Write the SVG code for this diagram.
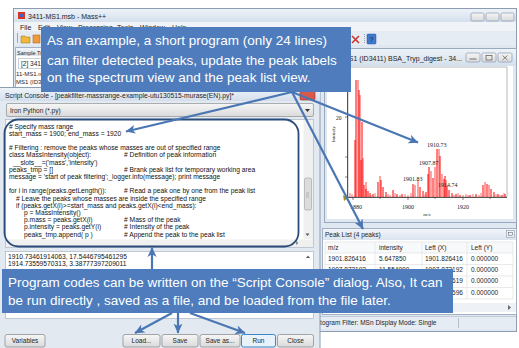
<svg xmlns="http://www.w3.org/2000/svg" width="519" height="348" viewBox="0 0 519 348">
  <style>
    .ui { font-family: "Liberation Sans", Arial, sans-serif; fill: #1e1e1e; }
    .t7 { font-size: 7px; }
    .t65 { font-size: 6.5px; }
    .code { font-family: "Liberation Sans", Arial, sans-serif; font-size: 6.7px; fill: #111; }
    .plot { font-family: "Liberation Serif", "Times New Roman", serif; fill: #222; }
    .callout-box { fill: #4e7cbc; }
    .callout-text { font-family: "Liberation Sans", Arial, sans-serif; font-size: 13.5px; fill: #ffffff; }
    .conn { stroke: #4a77b4; stroke-width: 2.2; fill: none; marker-end: url(#arrow); }
    .btn { fill: url(#btnGrad); stroke: #8e9092; stroke-width: 0.8; }
    .wbtn { fill: url(#btnGrad); stroke: #8a9ab0; stroke-width: 0.7; }
    .grid { stroke: #dcdcdc; stroke-width: 0.6; }
    .peak { stroke: #ff0000; stroke-width: 1; }
    .peak2 { stroke: #ff8c8c; stroke-width: 1.6; }
  </style>
  <defs>
    <linearGradient id="titleGrad" x1="0" y1="0" x2="0" y2="1">
      <stop offset="0" stop-color="#eef3f9"/>
      <stop offset="1" stop-color="#d4dfec"/>
    </linearGradient>
    <linearGradient id="btnGrad" x1="0" y1="0" x2="0" y2="1">
      <stop offset="0" stop-color="#f6f6f6"/>
      <stop offset="1" stop-color="#dadada"/>
    </linearGradient>
    <linearGradient id="headGrad" x1="0" y1="0" x2="0" y2="1">
      <stop offset="0" stop-color="#f1f5fa"/>
      <stop offset="1" stop-color="#dbe4ef"/>
    </linearGradient>
    <marker id="arrow" markerUnits="userSpaceOnUse" markerWidth="11" markerHeight="10" refX="9.5" refY="5" orient="auto">
      <path d="M0,0.5 L10,5 L0,9.5 L2.8,5 Z" fill="#4a77b4"/>
    </marker>
  </defs>

  <rect width="519" height="348" fill="#ffffff"/>

  <!-- Main application window -->
  <g id="main-window">
    <rect x="13.5" y="8.5" width="503" height="323" fill="#dfe7f1" stroke="#8c9cb1"/>
    <rect x="14" y="9" width="502" height="13" fill="url(#titleGrad)"/>
    <rect x="18" y="12" width="7" height="7" fill="#d8342a"/>
    <rect x="20" y="14" width="3" height="3" fill="#3b66c4"/>
    <text class="ui t7" x="28" y="19" fill="#333">3411-MS1.msb - Mass++</text>
    <rect class="wbtn" x="471" y="13" width="13" height="8" rx="1.5"/>
    <rect class="wbtn" x="486" y="13" width="13" height="8" rx="1.5"/>
    <rect class="wbtn" x="501" y="13" width="13" height="8" rx="1.5"/>
    <!-- menu bar -->
    <rect x="14" y="22" width="502" height="9" fill="#f0f3f8"/>
    <text class="ui t7" x="20" y="29.5">File</text>
    <text class="ui t7" x="38" y="29.5">Edit</text>
    <text class="ui t7" x="57" y="29.5">View</text>
    <text class="ui t7" x="78" y="29.5">Processing</text>
    <text class="ui t7" x="117" y="29.5">Tools</text>
    <text class="ui t7" x="140" y="29.5">Window</text>
    <text class="ui t7" x="172" y="29.5">Help</text>
    <!-- toolbar -->
    <rect x="14" y="31" width="502" height="14" fill="#e6ecf4"/>
    <line x1="17.5" y1="33" x2="17.5" y2="43" stroke="#9aa7b8"/>
    <path d="M21,36 h4 l1,1 h4 v6 h-9 z" fill="#f0b83c" stroke="#9a6a10" stroke-width="0.5"/>
    <rect x="33" y="35" width="7" height="8" fill="#f09a3a" stroke="#a0581a" stroke-width="0.5"/>
    <path d="M352,36 l7,7 M359,36 l-7,7" stroke="#c8342a" stroke-width="1.5"/>
    <line x1="364.5" y1="34" x2="364.5" y2="44" stroke="#9aa7b8" stroke-dasharray="1,1"/>
    <rect x="367" y="34" width="9" height="10" rx="1" fill="#3d7ad0" stroke="#24569c" stroke-width="0.5"/>
    <text class="ui" x="369.5" y="42" font-size="7" fill="#fff">?</text>
    <!-- sample tree panel -->
    <rect x="15.5" y="47.5" width="32" height="40" fill="#ffffff" stroke="#a3b1c2"/>
    <rect x="16" y="48" width="31" height="8" fill="url(#headGrad)"/>
    <text class="ui" x="17" y="54.5" font-size="5.5">Sample Tree</text>
    <rect x="18.5" y="58.5" width="40" height="10" fill="#ffffff" stroke="#c7cfd9"/>
    <text class="ui t65" x="21" y="66">[2] 3411-MS1</text>
    <text class="ui" x="16" y="76" font-size="6">11-MS1.msb</text>
    <text class="ui" x="16" y="84" font-size="6">MS1  (ID3411)</text>
  </g>

  <!-- Spectrum view child window -->
  <g id="spectrum-view">
    <rect x="324.5" y="48.5" width="192" height="174" fill="#dfe7f1" stroke="#9aaabe"/>
    <rect x="325" y="49" width="191" height="17" fill="url(#titleGrad)"/>
    <text class="ui t7" x="343" y="61" fill="#333">MS1  (ID3411) BSA_Tryp_digest - 34...</text>
    <rect class="wbtn" x="466" y="53" width="14" height="9" rx="1.5"/>
    <rect class="wbtn" x="482" y="53" width="14" height="9" rx="1.5"/>
    <rect class="wbtn" x="498" y="53" width="14" height="9" rx="1.5"/>
    <path d="M469.5,59 h7" stroke="#555" stroke-width="0.8"/>
    <rect x="486" y="55.5" width="6" height="4.5" fill="none" stroke="#555" stroke-width="0.7"/>
    <path d="M502.5,55.5 l5,4.5 M507.5,55.5 l-5,4.5" stroke="#555" stroke-width="0.7"/>
    <!-- plot area -->
    <rect x="327" y="66" width="186" height="153" fill="#ffffff"/>
    <rect x="348" y="67" width="159" height="130" fill="none" stroke="#888" stroke-width="0.6"/>
    <line x1="347.5" y1="67" x2="347.5" y2="197.5" stroke="#333" stroke-width="0.8"/>
    <line x1="347.5" y1="197.5" x2="507" y2="197.5" stroke="#333" stroke-width="0.8"/>
    <path d="M345,117 h3 M345,157 h3 M345,177 h3 M353,197 v3 M408,197 v3 M463,197 v3 M380,197 v2 M435,197 v2 M490,197 v2" stroke="#333" stroke-width="0.6"/>
    <text class="plot" x="336" y="119.5" font-size="5.5">20</text>
    <text class="plot" x="334.5" y="134" font-size="4.5" text-anchor="middle" transform="rotate(-90 334.5 134)">Intensity</text>
    <text class="plot" x="356" y="209" font-size="6" text-anchor="middle">1880</text>
    <text class="plot" x="408" y="209" font-size="6" text-anchor="middle">1900</text>
    <text class="plot" x="463" y="209" font-size="6" text-anchor="middle">1920</text>
    <text class="plot" x="427" y="215.5" font-size="5" text-anchor="middle">m/z</text>
    <!-- spectrum peaks -->
    <path class="peak2" d="M358,197V80 M360,197V95 M363,197V158 M366,197V182 M380,197V176 M415,197V185 M418,197V180 M431,197V171 M435,197V167 M439,197V149 M442,197V174 M446,197V180 M485,197V182 M489,197V185"/>
    <path class="peak" d="M355,197V140 M356,197V80 M359,197V90 M361,197V160 M362,197V122 M364,197V185 M366,197V189 M368,197V191 M370,197V193 M373,197V194 M378,197V182 M381,197V180 M383,197V187 M386,197V192 M393,197V190 M397,197V194 M402,197V194 M413,197V184 M420,197V187 M423,197V191 M426,197V192 M428,197V174 M429,197V167 M433,197V178 M437,197V149 M440,197V156 M444,197V179 M445,197V176 M447,197V186 M449,197V190 M452,197V193 M456,197V194 M460,197V195 M470,197V195 M476,197V194 M483,197V185 M487,197V184 M491,197V189 M494,197V192 M498,197V194 M502,197V195 M505,197V194"/>
    <path d="M350,197V193 M352,197V194 M371,197V195 M375,197V193 M388,197V194 M390,197V195 M395,197V193 M400,197V195 M405,197V194 M408,197V195 M411,197V193 M425,197V194 M454,197V195 M458,197V193 M463,197V195 M466,197V194 M468,197V195 M473,197V194 M479,197V195 M481,197V193 M496,197V194 M500,197V195 M504,197V193" stroke="#ff3030" stroke-width="0.7"/>
    <path d="M343,195 l5,3 l-4,3 z" fill="#a09020"/>
    <text class="plot" x="427" y="147" font-size="6">1910.73</text>
    <text class="plot" x="419" y="165" font-size="6">1907.87</text>
    <text class="plot" x="403" y="181" font-size="6">1901.83</text>
    <text class="plot" x="438" y="187" font-size="6">1914.74</text>
  </g>

  <!-- Peak list panel -->
  <g id="peak-list">
    <rect x="322.5" y="228.5" width="194" height="86" fill="#ffffff" stroke="#a3b1c2"/>
    <rect x="323" y="229" width="193" height="11" fill="url(#headGrad)"/>
    <text class="ui t65" x="325" y="237" fill="#555">Peak List (4 peaks)</text>
    <rect x="506.5" y="230.5" width="8" height="7" fill="#eef2f7" stroke="#8a9ab0" stroke-width="0.6"/>
    <rect x="508.5" y="232.5" width="4" height="3" fill="none" stroke="#555" stroke-width="0.5"/>
    <rect x="325" y="242" width="188" height="11" fill="#f8f9fb"/>
    <path class="grid" d="M325,242H513 M325,253H513 M325,264.5H513 M325,276H513 M325,287.5H513 M325,299H513 M375,242V299 M422,242V299 M467,242V299 M513,242V299 M325,242V299"/>
    <text class="ui t65" x="328" y="250">m/z</text>
    <text class="ui t65" x="379" y="250">intensity</text>
    <text class="ui t65" x="425" y="250">Left (X)</text>
    <text class="ui t65" x="471" y="250">Left (Y)</text>
    <text class="ui t65" x="328" y="260.5">1901.826416</text>
    <text class="ui t65" x="379" y="260.5">5.647850</text>
    <text class="ui t65" x="425" y="260.5">1901.826416</text>
    <text class="ui t65" x="471" y="260.5">0.000000</text>
    <text class="ui t65" x="328" y="271.5">1907.872192</text>
    <text class="ui t65" x="379" y="271.5">11.554900</text>
    <text class="ui t65" x="425" y="271.5">1907.872192</text>
    <text class="ui t65" x="471" y="271.5">0.000000</text>
    <text class="ui t65" x="425" y="283">1910.734619</text>
    <text class="ui t65" x="471" y="283">0.000000</text>
    <text class="ui t65" x="425" y="294.5">1914.735596</text>
    <text class="ui t65" x="471" y="294.5">0.000000</text>
    <rect x="323" y="303" width="193" height="9" fill="#eef1f5"/>
    <path d="M508,305 l3,2.5 l-3,2.5 z" fill="#666"/>
  </g>

  <!-- Status bar -->
  <g id="status-bar">
    <rect x="14" y="316" width="502" height="13" fill="#e6ecf3"/>
    <line x1="14" y1="316.5" x2="516" y2="316.5" stroke="#c2ccd8"/>
    <text class="ui t65" x="297" y="325" fill="#333">Chromatogram Filter: MSn Display Mode: Single</text>
    <line x1="458.5" y1="318" x2="458.5" y2="328" stroke="#b5bfcc"/>
  </g>

  <!-- Script Console dialog -->
  <g id="script-console">
    <rect x="-1" y="87.5" width="321" height="262" fill="#e3e9f1" stroke="#8c9cb1"/>
    <rect x="0" y="88" width="320" height="13" fill="url(#titleGrad)"/>
    <text class="ui t7" x="5" y="97.5" fill="#333" textLength="229" lengthAdjust="spacingAndGlyphs">Script Console - [peakfilter-massrange-example-utu130515-murase(EN).py]*</text>
    <rect x="300" y="91" width="15" height="9" rx="1.5" fill="#d9584a" stroke="#8e2e22" stroke-width="0.6"/>
    <!-- language selector -->
    <rect x="6.5" y="103.5" width="307" height="13" rx="1.5" fill="url(#btnGrad)" stroke="#8e9092" stroke-width="0.7"/>
    <text class="ui t65" x="10" y="112.5">Iron Python (*.py)</text>
    <path d="M305,109 h5 l-2.5,3 z" fill="#333"/>
    <!-- code editor -->
    <rect x="5.5" y="119.5" width="308" height="128" fill="#ffffff" stroke="#a8b4c2" stroke-width="0.7"/>
    <rect x="303.5" y="120" width="9.5" height="119" fill="#f0f0f0"/>
    <rect x="304.5" y="178" width="7" height="32" rx="1.5" fill="#dcdcdc" stroke="#a0a0a0" stroke-width="0.6"/>
    <path d="M306,193 h3 M306,195 h3 M306,197 h3" stroke="#888" stroke-width="0.5"/>
    <path d="M305.5,233.5 h4 l-2,2.5 z" fill="#555"/>
    <rect x="6" y="239.5" width="307" height="7.5" fill="#f0f0f0"/>
    <path d="M296,241 l2.5,2 l-2.5,2 z" fill="#888"/>
    <text class="code" x="9" y="128.5"># Specify mass range</text>
    <text class="code" x="9" y="135.7">start_mass = 1900; end_mass = 1920</text>
    <text class="code" x="9" y="150.1"># Filtering : remove the peaks whose masses are out of specified range</text>
    <text class="code" x="9" y="157.3">class MassIntensity(object):</text>
    <text class="code" x="124" y="157.3"># Definition of peak information</text>
    <text class="code" x="13" y="164.5">__slots__=('mass','intensity')</text>
    <text class="code" x="9" y="171.7">peaks_tmp = []</text>
    <text class="code" x="124" y="171.7"># Brank peak list for temporary working area</text>
    <text class="code" x="9" y="178.9">message = 'start of peak filtering';_logger.info(message); print message</text>
    <text class="code" x="9" y="193.3">for i in range(peaks.getLength()):</text>
    <text class="code" x="124" y="193.3"># Read a peak one by one from the peak list</text>
    <text class="code" x="16" y="200.5"># Leave the peaks whose masses are inside the specified range</text>
    <text class="code" x="16" y="207.7">if (peaks.getX(i)&gt;=start_mass and peaks.getX(i)&lt;end_mass):</text>
    <text class="code" x="24" y="214.9">p = MassIntensity()</text>
    <text class="code" x="24" y="222.1">p.mass = peaks.getX(i)</text>
    <text class="code" x="124" y="222.1"># Mass of the peak</text>
    <text class="code" x="24" y="229.3">p.intensity = peaks.getY(i)</text>
    <text class="code" x="124" y="229.3"># Intensity of the peak</text>
    <text class="code" x="24" y="236.5">peaks_tmp.append( p )</text>
    <text class="code" x="124" y="236.5"># Append the peak to the peak list</text>
    <!-- output area -->
    <rect x="5.5" y="251.5" width="308" height="67" fill="#ffffff" stroke="#a8b4c2" stroke-width="0.7"/>
    <path d="M306,258 h4 l-2,-2.5 z" fill="#555"/>
    <path d="M12,305 l-2.5,2 l2.5,2 z" fill="#888"/>
    <text class="code" x="8" y="258.5" font-size="6.6">1910.73461914063, 17.5446795461295</text>
    <text class="code" x="8" y="265.5" font-size="6.6">1914.73559570313, 3.38777397209011</text>
    <!-- buttons -->
    <rect class="btn" x="5" y="334.5" width="40" height="12.5" rx="2"/>
    <text class="ui t65" x="25" y="343" text-anchor="middle">Variables</text>
    <rect class="btn" x="123" y="334.5" width="37" height="12.5" rx="2"/>
    <text class="ui t65" x="141.5" y="343" text-anchor="middle">Load...</text>
    <rect class="btn" x="162" y="334.5" width="36" height="12.5" rx="2"/>
    <text class="ui t65" x="180" y="343" text-anchor="middle">Save</text>
    <rect class="btn" x="200" y="334.5" width="40" height="12.5" rx="2"/>
    <text class="ui t65" x="220" y="343" text-anchor="middle">Save as...</text>
    <rect x="241.5" y="334.5" width="34" height="12.5" rx="2" fill="#e8f2fb" stroke="#3c86c4" stroke-width="1"/>
    <text class="ui t65" x="258.5" y="343" text-anchor="middle">Run</text>
    <rect class="btn" x="277.5" y="334.5" width="36" height="12.5" rx="2"/>
    <text class="ui t65" x="295.5" y="343" text-anchor="middle">Close</text>
  </g>

  <!-- Highlight around the program source -->
  <g id="code-highlight">
    <rect x="4.5" y="119.5" width="294" height="127" rx="14" fill="none" stroke="#2b4c7b" stroke-width="1.8"/>
  </g>

  <!-- Callout: what the short program does -->
  <g id="callout-program">
    <rect class="callout-box" x="41" y="27" width="310" height="65"/>
    <text class="callout-text" x="47" y="45">As an example, a short program (only 24 lines)</text>
    <text class="callout-text" x="47" y="64.5">can filter detected peaks, update the peak labels</text>
    <text class="callout-text" x="47" y="82">on the spectrum view and the peak list view.</text>
  </g>

  <!-- Callout: where the program is written and run -->
  <g id="callout-console">
    <rect class="callout-box" x="2" y="269" width="451" height="44"/>
    <text class="callout-text" x="8" y="287">Program codes can be written on the “Script Console” dialog. Also, It can</text>
    <text class="callout-text" x="8" y="305">be run directly , saved as a file, and be loaded from the file later.</text>
  </g>

  <!-- Connectors -->
  <g id="connectors">
    <line class="conn" x1="292" y1="92" x2="126" y2="131.5"/>
    <line class="conn" x1="292" y1="92" x2="418" y2="142.5"/>
    <line class="conn" x1="292" y1="92" x2="363" y2="229"/>
    <line class="conn" x1="152" y1="269" x2="152" y2="247.5"/>
    <line class="conn" x1="172" y1="313" x2="135" y2="333"/>
    <line class="conn" x1="178" y1="313" x2="178" y2="333"/>
    <line class="conn" x1="190" y1="313" x2="245" y2="333"/>
  </g>
</svg>
